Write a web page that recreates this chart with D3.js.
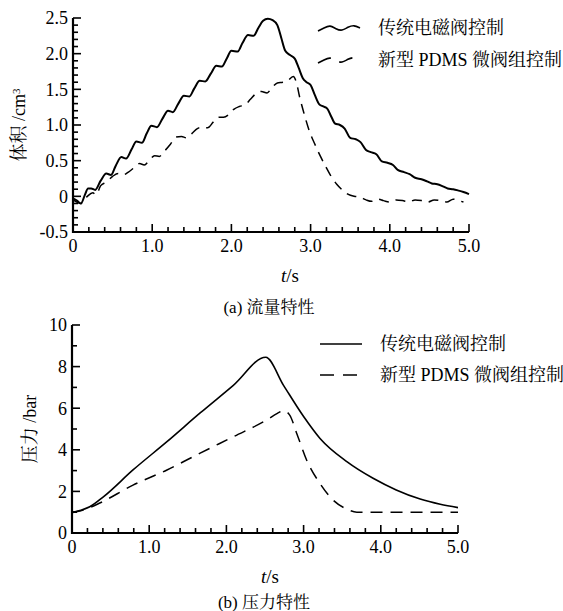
<!DOCTYPE html>
<html>
<head>
<meta charset="utf-8">
<script src="https://cdn.jsdelivr.net/npm/d3@7"></script>
<style>
  body { margin: 0; background: #fff; }
  svg { display: block; }
  text { font-family: "Liberation Serif", "Times New Roman", "DejaVu Serif", "Noto Serif CJK SC", "Noto Sans CJK SC", serif; fill: #000; }
</style>
</head>
<body>
<script>
// ---- data ----
var seriesNames = ["传统电磁阀控制", "新型 PDMS 微阀组控制"];

// (a) flow: volume cm3 vs time s
var flowT_solid = [0.00,0.05,0.10,0.15,0.19,0.23,0.28,0.35,0.42,0.48,0.54,0.61,0.67,0.74,0.80,0.87,0.93,0.99,1.06,1.13,1.20,1.26,1.33,1.40,1.47,1.53,1.60,1.67,1.74,1.81,1.88,1.94,2.00,2.08,2.14,2.21,2.28,2.34,2.40,2.46,2.52,2.58,2.63,2.68,2.74,2.80,2.85,2.90,2.95,3.00,3.05,3.11,3.16,3.21,3.26,3.31,3.37,3.43,3.50,3.57,3.63,3.70,3.76,3.83,3.90,3.97,4.04,4.10,4.18,4.25,4.32,4.40,4.47,4.53,4.60,4.67,4.73,4.80,4.87,4.93,5.00];
var flowV_solid = [-0.03,-0.06,-0.10,0.02,0.11,0.11,0.09,0.22,0.32,0.30,0.43,0.55,0.53,0.66,0.77,0.75,0.88,0.99,0.97,1.09,1.20,1.18,1.30,1.41,1.40,1.51,1.62,1.61,1.72,1.83,1.82,1.93,2.04,2.03,2.15,2.26,2.25,2.36,2.46,2.49,2.47,2.40,2.22,2.04,1.98,1.93,1.80,1.66,1.60,1.56,1.43,1.29,1.26,1.23,1.12,1.02,1.00,0.95,0.82,0.80,0.76,0.65,0.62,0.59,0.49,0.47,0.44,0.37,0.34,0.31,0.26,0.24,0.21,0.18,0.17,0.14,0.11,0.10,0.08,0.06,0.03];

var flowT_dash = [0.00,0.10,0.18,0.25,0.29,0.35,0.42,0.50,0.57,0.63,0.70,0.77,0.84,0.90,0.96,1.03,1.09,1.16,1.23,1.30,1.37,1.43,1.50,1.57,1.63,1.70,1.77,1.84,1.90,1.97,2.03,2.10,2.17,2.24,2.31,2.38,2.45,2.51,2.58,2.65,2.71,2.78,2.82,2.86,2.92,2.98,3.05,3.12,3.19,3.26,3.33,3.40,3.47,3.55,3.62,3.70,3.77,3.85,3.92,4.00,4.08,4.16,4.24,4.32,4.40,4.48,4.56,4.64,4.72,4.80,4.87,4.93];
var flowV_dash = [-0.05,-0.10,0.00,0.05,0.02,0.15,0.20,0.28,0.32,0.30,0.34,0.40,0.46,0.44,0.50,0.57,0.56,0.64,0.73,0.83,0.84,0.82,0.88,0.95,0.97,0.96,1.04,1.11,1.11,1.15,1.22,1.26,1.28,1.36,1.44,1.47,1.45,1.52,1.59,1.60,1.62,1.68,1.60,1.40,1.15,0.93,0.74,0.57,0.42,0.28,0.17,0.09,0.03,0.00,-0.01,-0.05,-0.07,-0.04,-0.06,-0.08,-0.05,-0.06,-0.08,-0.05,-0.06,-0.08,-0.05,-0.06,-0.08,-0.04,-0.06,-0.08];

// (b) pressure: bar vs time s
var presT_solid = [0.00,0.10,0.23,0.41,0.79,1.23,1.66,2.09,2.51,2.74,3.00,3.21,3.56,3.90,4.20,4.51,4.77,5.00];
var presV_solid = [0.98,1.08,1.26,1.75,3.03,4.39,5.77,7.10,8.45,7.10,5.60,4.56,3.43,2.63,2.07,1.63,1.38,1.22];

var presT_dash = [0.00,0.10,0.20,0.36,0.79,1.23,1.66,2.09,2.52,2.66,2.74,2.82,2.91,3.04,3.21,3.38,3.56,3.69,4.00,4.50,5.00];
var presV_dash = [1.00,1.06,1.18,1.44,2.30,3.03,3.84,4.63,5.43,5.75,5.88,5.67,4.80,3.50,2.39,1.59,1.15,1.00,1.00,1.00,1.00];

// axis ticks
var xTicks = [0, 1, 2, 3, 4, 5];
var xTickLabels = ["0", "1.0", "2.0", "3.0", "4.0", "5.0"];
var flowYTicks = [-0.5, 0, 0.5, 1.0, 1.5, 2.0, 2.5];
var flowYLabels = ["-0.5", "0", "0.5", "1.0", "1.5", "2.0", "2.5"];
var presYTicks = [0, 2, 4, 6, 8, 10];
var presYLabels = ["0", "2", "4", "6", "8", "10"];

function zip(t, v) {
    return t.map(function(d, i) { return {t: d, v: v[i]}; });
}

var svg = d3.select("body").append("svg")
    .attr("width", 563)
    .attr("height", 611);

function drawPanel(opt) {
    var x = d3.scaleLinear().domain([0, 5]).range([opt.left, opt.right]);
    var y = d3.scaleLinear().domain(opt.yDomain).range([opt.bottom, opt.top]);
    var g = svg.append("g");

    // minor x ticks (0.2 s), pointing inward
    var xMinor = d3.range(0, 5.0001, 0.2);
    g.append("g").selectAll("line")
        .data(xMinor)
        .enter().append("line")
        .attr("x1", function(d) { return x(d); })
        .attr("x2", function(d) { return x(d); })
        .attr("y1", opt.bottom)
        .attr("y2", function(d) {
            return Math.abs(d - Math.round(d)) < 1e-6 ? opt.bottom - 8 : opt.bottom - 5;
        })
        .attr("stroke", "#000")
        .attr("stroke-width", 1.6);

    // minor y ticks
    var yMinor = d3.range(opt.yDomain[0], opt.yDomain[1] + 1e-6, opt.yMinorStep);
    g.append("g").selectAll("line")
        .data(yMinor)
        .enter().append("line")
        .attr("x1", opt.left)
        .attr("x2", function(d) {
            var isMajor = opt.yTicks.some(function(m) { return Math.abs(m - d) < 1e-6; });
            return isMajor ? opt.left + 8 : opt.left + 5;
        })
        .attr("y1", function(d) { return y(d); })
        .attr("y2", function(d) { return y(d); })
        .attr("stroke", "#000")
        .attr("stroke-width", 1.6);

    // axis lines
    g.append("path")
        .attr("d", "M" + opt.left + "," + opt.top + "V" + opt.bottom + "H" + opt.right)
        .attr("fill", "none")
        .attr("stroke", "#000")
        .attr("stroke-width", 2.2);

    // tick labels
    g.append("g").selectAll("text")
        .data(xTicks)
        .enter().append("text")
        .text(function(d, i) { return xTickLabels[i]; })
        .attr("x", function(d) { return x(d); })
        .attr("y", opt.bottom + 20)
        .attr("text-anchor", "middle")
        .attr("font-size", 18);

    g.append("g").selectAll("text")
        .data(opt.yTicks)
        .enter().append("text")
        .text(function(d, i) { return opt.yLabels[i]; })
        .attr("x", opt.left - 5)
        .attr("y", function(d) { return y(d); })
        .attr("dy", "0.35em")
        .attr("text-anchor", "end")
        .attr("font-size", 18);

    // curves
    var line = d3.line()
        .x(function(d) { return x(d.t); })
        .y(function(d) { return y(d.v); })
        .curve(d3.curveMonotoneX);

    g.append("path")
        .datum(opt.solid)
        .attr("d", line)
        .attr("fill", "none")
        .attr("stroke", "#000")
        .attr("stroke-width", opt.solidWidth);

    g.append("path")
        .datum(opt.dash)
        .attr("d", line)
        .attr("fill", "none")
        .attr("stroke", "#000")
        .attr("stroke-width", 1.5)
        .attr("stroke-dasharray", opt.dashArray);

    // x title
    var xt = g.append("text")
        .attr("x", opt.xTitleX)
        .attr("y", opt.bottom + 50)
        .attr("text-anchor", "middle")
        .attr("font-size", 19);
    xt.append("tspan").attr("font-style", "italic").text("t");
    xt.append("tspan").text("/s");

    // caption
    g.append("text")
        .attr("x", opt.captionX)
        .attr("y", opt.captionY)
        .attr("text-anchor", "middle")
        .attr("font-size", 17)
        .text(opt.caption);

    // y title
    var yt = g.append("text")
        .attr("transform", "translate(" + opt.yTitleX + "," + ((opt.top + opt.bottom) / 2) + ") rotate(-90)")
        .attr("text-anchor", "middle")
        .attr("font-size", 18);
    yt.append("tspan").text(opt.yTitle);
    if (opt.yTitleSup) {
        yt.append("tspan").attr("dy", "-0.5em").attr("font-size", 11).text(opt.yTitleSup);
    }

    return g;
}

var topPanel = drawPanel({
    left: 73, right: 469, top: 18, bottom: 232,
    yDomain: [-0.5, 2.5], yMinorStep: 0.1,
    yTicks: flowYTicks, yLabels: flowYLabels,
    solid: zip(flowT_solid, flowV_solid),
    dash: zip(flowT_dash, flowV_dash),
    solidWidth: 2, dashArray: "10,7",
    xTitleX: 290, caption: "(a) 流量特性", captionX: 269, captionY: 313,
    yTitle: "体积 /cm", yTitleSup: "3", yTitleX: 25
});

var botPanel = drawPanel({
    left: 72, right: 458, top: 325, bottom: 533,
    yDomain: [0, 10], yMinorStep: 1,
    yTicks: presYTicks, yLabels: presYLabels,
    solid: zip(presT_solid, presV_solid),
    dash: zip(presT_dash, presV_dash),
    solidWidth: 1.6, dashArray: "12,8",
    xTitleX: 270, caption: "(b) 压力特性", captionX: 264, captionY: 608,
    yTitle: "压力 /bar", yTitleSup: null, yTitleX: 36
});

// legends
function legend(items, x0, yRows, wavy) {
    var g = svg.append("g");
    items.forEach(function(name, i) {
        var yy = yRows[i];
        var pts;
        if (wavy) {
            pts = [[0, 3], [6, 0], [12, -3], [18, 1], [24, 3], [30, -1], [36, -3], [42, 0]];
        } else {
            pts = [[0, 0], [42, 0]];
        }
        g.append("path")
            .datum(pts)
            .attr("d", d3.line().x(function(d) { return x0 + d[0]; }).y(function(d) { return yy + d[1]; }).curve(d3.curveBasis))
            .attr("fill", "none")
            .attr("stroke", "#000")
            .attr("stroke-width", 1.6)
            .attr("stroke-dasharray", i === 1 ? "14,9" : null);
        g.append("text")
            .attr("x", x0 + 60)
            .attr("y", yy)
            .attr("dy", "0.35em")
            .attr("font-size", 18)
            .text(name);
    });
}
legend(seriesNames, 318, [28, 60], true);
legend(seriesNames, 320, [344, 375], false);
</script>
</body>
</html>
